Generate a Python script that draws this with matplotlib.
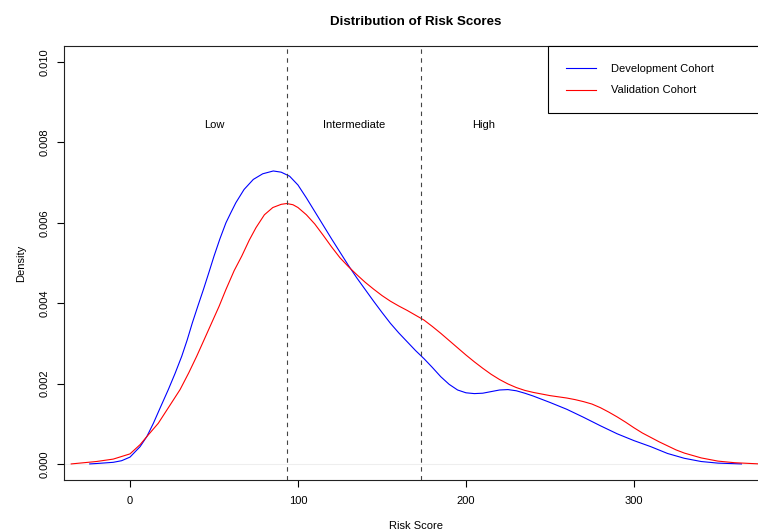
import numpy as np
import matplotlib.pyplot as plt

plt.rcParams['font.family'] = ['Liberation Sans', 'DejaVu Sans']
plt.rcParams['font.size'] = 8

# density curves
dev_x = [-24, -20, -10, -5, 0, 6, 10, 13.9, 18, 22.8, 26.8, 30.8, 34, 37.1, 40.4, 43.7,
         47, 50, 53.5, 57.1, 60, 63, 67.9, 73.4, 79, 85.3, 90, 95, 100, 105, 110, 115,
         120, 125, 130, 135, 140, 145, 150, 155, 160, 165, 170, 175, 180, 185, 190, 195,
         200, 205, 210, 215, 220, 225, 230, 235, 240, 250, 260, 270, 280, 290, 300, 310,
         320, 330, 340, 350, 364]
dev_y = [0.0, 0.00001, 0.00004, 0.00008, 0.00017, 0.00043, 0.00068, 0.00101, 0.0014,
         0.00185, 0.00225, 0.00268, 0.00308, 0.00351, 0.00393, 0.00434, 0.00477, 0.00517,
         0.0056, 0.006, 0.00625, 0.0065, 0.00683, 0.00708, 0.00722, 0.00729, 0.00726,
         0.00716, 0.00694, 0.00662, 0.00628, 0.00594, 0.0056, 0.00527, 0.00494, 0.00463,
         0.00434, 0.00405, 0.00377, 0.0035, 0.00326, 0.00304, 0.00282, 0.00262, 0.0024,
         0.00217, 0.00198, 0.00184, 0.00177, 0.00175, 0.00176, 0.0018, 0.00184, 0.00185,
         0.00182, 0.00176, 0.00169, 0.00153, 0.00136, 0.00116, 0.00095, 0.00075, 0.00058,
         0.00043, 0.00026, 0.00014, 0.00006, 0.00002, 0.0]

val_x = [-35, -30, -20, -10, 0, 6, 10, 16.8, 23, 29.8, 35, 39.7, 44, 48.6, 53, 57.1, 62,
         66.5, 71, 75, 80, 85, 90, 93.3, 97, 100, 105, 110, 115, 120, 125, 130, 135, 140,
         145, 150, 155, 160, 165, 170, 175, 180, 185, 190, 195, 200, 205, 210, 215, 220,
         225, 230, 235, 240, 245, 250, 255, 260, 265, 270, 275, 280, 285, 290, 295, 300,
         305, 310, 315, 320, 325, 330, 340, 350, 360, 375]
val_y = [0.0, 0.00002, 0.00006, 0.00012, 0.00025, 0.00048, 0.00068, 0.00101, 0.00141,
         0.00185, 0.00227, 0.00268, 0.00308, 0.00351, 0.00392, 0.00434, 0.00481, 0.00517,
         0.00557, 0.00588, 0.0062, 0.00638, 0.00646, 0.00648, 0.00645, 0.00638, 0.0062,
         0.00597, 0.00569, 0.0054, 0.00513, 0.00491, 0.00471, 0.00452, 0.00435, 0.00419,
         0.00405, 0.00393, 0.00382, 0.0037, 0.00358, 0.00342, 0.00325, 0.00307, 0.00289,
         0.00271, 0.00254, 0.00238, 0.00223, 0.0021, 0.00199, 0.0019, 0.00183, 0.00178,
         0.00174, 0.0017, 0.00167, 0.00164, 0.0016, 0.00155, 0.00149, 0.0014, 0.00129,
         0.00117, 0.00104, 0.0009, 0.00077, 0.00066, 0.00055, 0.00045, 0.00035, 0.00027,
         0.00015, 0.00007, 0.00003, 0.0]

cutoffs = [93.5, 173.2]
region_labels = ["Low", "Intermediate", "High"]
region_x = [50, 133.3, 210.7]
region_y = 0.00843

fig = plt.figure(figsize=(7.58, 5.32), dpi=100)
ax = fig.add_axes([64/758, 52/532, 704/758, 434/532])

ax.axhline(0, color='#eeeeee', lw=0.8)
ax.plot(dev_x, dev_y, color='#0000ff', lw=0.8, label='Development Cohort')
ax.plot(val_x, val_y, color='#ff0000', lw=0.8, label='Validation Cohort')
for c in cutoffs:
    ax.axvline(c, color='#444444', lw=0.8, linestyle=(0, (4, 4)))
for lab, x in zip(region_labels, region_x):
    ax.text(x, region_y, lab, ha='center', va='center', fontsize=8)

ax.set_xlim(-39.3, 379.8)
ax.set_ylim(-0.0004, 0.0104)
ax.set_xticks([0, 100, 200, 300])
ax.set_yticks([0, 0.002, 0.004, 0.006, 0.008, 0.010])
ax.set_yticklabels(["0.000", "0.002", "0.004", "0.006", "0.008", "0.010"], rotation=90, va='center')
ax.tick_params(direction='out', length=5, width=0.8)
ax.tick_params(axis='x', pad=6.5)
ax.tick_params(axis='y', pad=5)
for s in ax.spines.values():
    s.set_linewidth(0.8)
    s.set_color('#222222')

ax.set_title("Distribution of Risk Scores", fontsize=9.6, fontweight='bold', pad=15)
ax.set_xlabel("Risk Score")
ax.xaxis.set_label_coords(0.5, -0.0945)
ax.set_ylabel("Density")
ax.yaxis.set_label_coords(-0.054, 0.5)

leg = ax.legend(loc='upper left', bbox_to_anchor=(548/758, 1 - 46/532, 220/758, 0.0),
                bbox_transform=fig.transFigure, mode='expand', borderaxespad=0,
                fancybox=False, edgecolor='black', framealpha=1, borderpad=1.6,
                handlelength=2.7, handletextpad=1.4, labelspacing=1.05, fontsize=8)
leg.get_frame().set_linewidth(0.8)

fig.savefig("out.png", dpi=100)
